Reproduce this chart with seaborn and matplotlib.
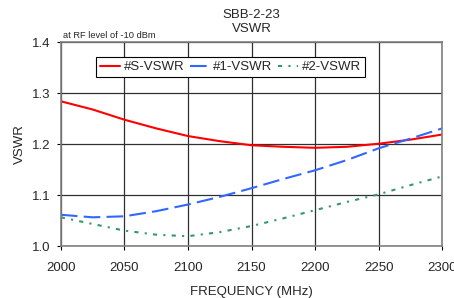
import pandas as pd
import matplotlib
matplotlib.use("Agg")
import matplotlib.pyplot as plt
import seaborn as sns

# values
freq = [2000, 2025, 2050, 2075, 2100, 2125, 2150, 2175, 2200, 2225, 2250, 2275, 2300]
s_vswr = [1.284, 1.268, 1.248, 1.231, 1.216, 1.206, 1.198, 1.195, 1.193, 1.195, 1.201, 1.209, 1.219]
p1_vswr = [1.062, 1.057, 1.059, 1.069, 1.082, 1.097, 1.114, 1.132, 1.149, 1.169, 1.192, 1.211, 1.231]
p2_vswr = [1.057, 1.044, 1.031, 1.023, 1.020, 1.028, 1.040, 1.055, 1.071, 1.087, 1.102, 1.120, 1.137]

x_ticks = [2000, 2050, 2100, 2150, 2200, 2250, 2300]
y_ticks = [1.0, 1.1, 1.2, 1.3, 1.4]

sns.set_style("white")
plt.rcParams['font.family'] = ['Liberation Sans', 'DejaVu Sans']

fig = plt.figure(figsize=(4.54, 2.98), dpi=100)
ax = fig.add_axes([0.134, 0.173, 0.840, 0.686])

sns.lineplot(x=freq, y=s_vswr, ax=ax, color='#ff0000', lw=1.5, label='#S-VSWR')
sns.lineplot(x=freq, y=p1_vswr, ax=ax, color='#3366ff', lw=1.5, label='#1-VSWR')
ax.lines[-1].set_dashes([8, 3])
sns.lineplot(x=freq, y=p2_vswr, ax=ax, color='#339966', lw=1.5, label='#2-VSWR')
ax.lines[-1].set_dashes([2, 3, 1, 3])

ax.set_xlim(2000, 2300)
ax.set_ylim(1.0, 1.4)
ax.set_xticks(x_ticks)
ax.set_yticks(y_ticks)
ax.set_yticklabels([f"{v:.1f}" for v in y_ticks])
ax.grid(True, color='#303030', lw=0.9)
ax.set_axisbelow(True)
for sp in ax.spines.values():
    sp.set_color('#808080')
    sp.set_linewidth(1.2)
ax.tick_params(axis='both', labelsize=9.5, length=3, color='black', direction='out',
               bottom=True, left=True)
ax.tick_params(axis='x', pad=8)
ax.tick_params(axis='y', pad=4.5)

ax.set_xlabel('FREQUENCY (MHz)', fontsize=9.5, labelpad=9)
ax.set_ylabel('VSWR', fontsize=9.5, labelpad=4)
ax.set_title('SBB-2-23\nVSWR', fontsize=9.5, pad=7.5, linespacing=1.2)
ax.text(0.005, 1.012, 'at RF level of -10 dBm', transform=ax.transAxes, fontsize=6.7,
        ha='left', va='bottom')

leg = ax.legend(loc='upper left', bbox_to_anchor=(0.092, 0.927), ncol=3, fontsize=9.5,
                frameon=True, fancybox=False, framealpha=1, edgecolor='black',
                borderpad=0.3, handlelength=1.5, handletextpad=0.3, columnspacing=0.4,
                borderaxespad=0)
leg.get_frame().set_linewidth(0.8)

fig.savefig('out.png', dpi=100)
